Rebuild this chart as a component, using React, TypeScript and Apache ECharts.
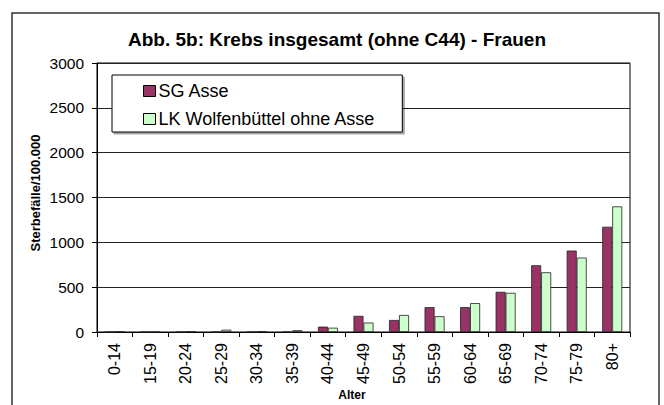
import React, { useEffect, useRef } from "react";
import * as echarts from "echarts";

const categories = ["0-14", "15-19", "20-24", "25-29", "30-34", "35-39", "40-44", "45-49", "50-54", "55-59", "60-64", "65-69", "70-74", "75-79", "80+"];
const sgAsse = [0, 0, 0, 0, 0, 0, 60, 180, 134, 277, 277, 448, 744, 908, 1174];
const lkWolfenbuettel = [5, 0, 5, 26, 5, 20, 48, 105, 190, 176, 322, 437, 666, 830, 1401];
const yTicks = { min: 0, max: 3000, interval: 500 };

const FONT = "'Liberation Sans', Arial, sans-serif";

export default function App() {
  const ref = useRef<HTMLDivElement>(null);
  useEffect(() => {
    document.body.style.margin = "0";
    const chart = echarts.init(ref.current!, null, { renderer: "svg" });
    chart.setOption({
      animation: false,
      backgroundColor: "#fff",
      textStyle: { fontFamily: FONT },
      title: {
        text: "Abb. 5b: Krebs insgesamt (ohne C44) - Frauen",
        left: 332,
        textAlign: "center",
        top: 25,
        textStyle: { fontFamily: FONT, fontSize: 19, fontWeight: "bold", color: "#000" },
      },
      grid: {
        left: 97,
        top: 63,
        right: 34,
        bottom: 73,
        show: true,
        borderColor: "#000",
        borderWidth: 1,
        backgroundColor: "transparent",
      },
      legend: {
        orient: "vertical",
        left: 112,
        top: 75,
        padding: [7, 27, 4, 31],
        itemGap: 10,
        itemWidth: 12,
        itemHeight: 11,
        icon: "rect",
        backgroundColor: "#fff",
        borderColor: "#000",
        borderWidth: 1,
        shadowColor: "rgba(0,0,0,0.35)",
        shadowOffsetX: 2,
        shadowOffsetY: 2,
        shadowBlur: 0,
        itemStyle: { borderColor: "#000", borderWidth: 1 },
        textStyle: { fontFamily: FONT, fontSize: 18, color: "#000", padding: [0, 0, 0, -2] },
        data: ["SG Asse", "LK Wolfenbüttel ohne Asse"],
      },
      xAxis: {
        type: "category",
        data: categories,
        boundaryGap: true,
        axisLine: { lineStyle: { color: "#000", width: 1 } },
        axisTick: { show: true, length: 5, inside: false, lineStyle: { color: "#000" } },
        axisLabel: { rotate: 90, margin: 11, fontFamily: FONT, fontSize: 16, color: "#000", interval: 0 },
        splitLine: { show: false },
      },
      yAxis: {
        type: "value",
        min: yTicks.min,
        max: yTicks.max,
        interval: yTicks.interval,
        axisLine: { show: true, lineStyle: { color: "#000", width: 1 } },
        axisTick: { show: true, length: 5, lineStyle: { color: "#000" } },
        axisLabel: { margin: 13, fontFamily: FONT, fontSize: 15.5, color: "#000", formatter: (v: number) => String(v) },
        splitLine: { show: true, lineStyle: { color: "#222", width: 1 } },
      },
      graphic: [
        {
          type: "rect",
          shape: { x: 12, y: 13, width: 647, height: 500 },
          style: { fill: "none", stroke: "#333", lineWidth: 1.5 },
          silent: true,
        },
        {
          type: "text",
          x: 352,
          y: 389,
          style: {
            text: "Alter",
            font: `bold 12px ${FONT}`,
            fill: "#000",
            align: "center",
            verticalAlign: "top",
          },
        },
        {
          type: "text",
          x: 35,
          y: 193,
          rotation: Math.PI / 2,
          style: {
            text: "Sterbefälle/100.000",
            font: `bold 13px ${FONT}`,
            fill: "#000",
            align: "center",
            verticalAlign: "middle",
          },
        },
      ],
      series: [
        {
          name: "SG Asse",
          type: "bar",
          data: sgAsse,
          barWidth: 10,
          barGap: "0%",
          itemStyle: { color: "#993366", borderColor: "#222", borderWidth: 0.8 },
        },
        {
          name: "LK Wolfenbüttel ohne Asse",
          type: "bar",
          data: lkWolfenbuettel,
          barWidth: 10,
          barGap: "0%",
          itemStyle: { color: "#CCFFCC", borderColor: "#222", borderWidth: 0.8 },
        },
      ],
    });
    return () => chart.dispose();
  }, []);
  return <div ref={ref} style={{ width: 664, height: 405, position: "absolute", left: 0, top: 0 }} />;
}
